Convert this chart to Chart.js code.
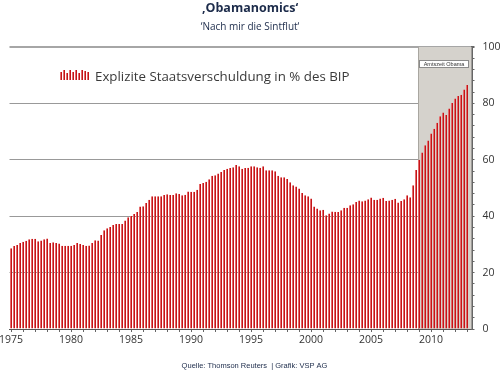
<!DOCTYPE html>
<html><head><meta charset="utf-8">
<script src="https://cdn.jsdelivr.net/npm/chart.js@4"></script>
<style>html,body{margin:0;padding:0;background:#fff}#wrap{width:500px;height:371px;position:relative}</style>
</head><body><div id="wrap"><canvas id="c" width="500" height="371"></canvas></div>
<script>
const titleText = '\u201AObamanomics\u2018';
const subtitleText = '\u2018Nach mir die Sintflut\u2018';
const seriesName = 'Explizite Staatsverschuldung in % des BIP';
const sourceText = 'Quelle: Thomson Reuters  | Grafik: VSP AG';
const shadeLabel = 'Amtszeit Obama';
const obamaStart = '2009 Q1';

// quarterly categories 1975 Q1 .. 2013 Q2
const firstYear = 1975, lastYear = 2013, lastQuarter = 2;
const quarters = [];
for (let y = firstYear; y <= lastYear; y++) {
  for (let q = 1; q <= 4; q++) {
    if (y === lastYear && q > lastQuarter) break;
    quarters.push(y + ' Q' + q);
  }
}

// explicit public debt, % of GDP, 1975 Q1 .. 2013 Q1
const debt1975_1982 = [28.6, 29.4, 29.8, 30.5, 30.9, 31.3, 31.8, 32.0, 32.0, 31.1, 31.4, 31.8, 32.1, 30.5, 30.8, 30.5,
  30.3, 29.5, 29.5, 29.5, 29.5, 29.8, 30.5, 30.1, 29.8, 29.5, 29.6, 30.5, 31.5, 31.4, 33.3, 35.0];
const debt1983_1990 = [35.7, 36.2, 36.9, 37.2, 37.2, 37.2, 38.5, 39.6, 40.1, 40.8, 41.5, 43.4, 43.5, 44.7, 45.8, 47.1,
  47.1, 47.1, 47.1, 47.5, 47.8, 47.5, 47.5, 48.1, 47.9, 47.4, 47.6, 48.8, 48.7, 48.7, 49.4, 51.4];
const debt1991_1999 = [51.8, 52.2, 53.1, 54.3, 54.5, 55.1, 55.7, 56.4, 56.8, 57.1, 57.4, 58.2, 57.7, 56.8, 57.1, 57.2,
  57.7, 57.7, 57.4, 57.2, 57.7, 56.3, 56.3, 56.3, 55.9, 54.3, 53.8, 53.8, 53.2, 52.0, 51.0, 50.5, 49.8, 48.2, 47.4];
const debt1999_2009 = [47.1, 46.3, 43.4, 42.7, 42.1, 42.3, 40.3, 41.0, 41.7, 41.6, 41.5, 42.1, 43.0, 43.0, 43.9, 44.2,
  45.0, 45.6, 45.3, 45.6, 46.0, 46.6, 45.8, 45.8, 46.3, 46.5, 45.4, 45.6, 45.8, 46.2, 44.9, 45.4, 46.0, 47.4, 46.7, 51.0, 56.4, 60.0];
const debt2009_2013 = [62.6, 65.2, 66.8, 69.3, 71.0, 73.1, 75.4, 76.8, 75.9, 78.2, 80.1, 81.7, 82.6, 83.1, 84.9, 86.5];
const debtRatio = [].concat(debt1975_1982, debt1983_1990, debt1991_1999, debt1999_2009, debt2009_2013);

const yearTickLabels = ['1975', '1980', '1985', '1990', '1995', '2000', '2005', '2010'];
const yTickValues = [0, 20, 40, 60, 80, 100];

const FONT = '"Open Sans", "DejaVu Sans", sans-serif';
const navy = '#1c2b4a';

const decor = {
  id: 'decor',
  beforeDatasetsDraw(chart) {
    const {ctx, chartArea, scales} = chart;
    const xs = scales.x, ys = scales.y;
    const idx = quarters.indexOf(obamaStart);
    const half = (xs.getPixelForValue(1) - xs.getPixelForValue(0)) / 2;
    const left = Math.round(xs.getPixelForValue(idx) - half);
    const top = ys.getPixelForValue(100);
    ctx.save();
    ctx.fillStyle = '#d5d2cc';
    ctx.fillRect(left, top, chartArea.right - left, chartArea.bottom - top);
    ctx.fillStyle = '#a9a6a0';
    ctx.fillRect(left, top, 1, chartArea.bottom - top);
    ctx.restore();
  },
  afterDraw(chart) {
    const {ctx, chartArea, scales} = chart;
    const xs = scales.x, ys = scales.y;
    ctx.save();
    // title + subtitle
    ctx.textAlign = 'center';
    ctx.textBaseline = 'alphabetic';
    ctx.fillStyle = navy;
    ctx.font = 'bold 12.5px ' + FONT;
    ctx.fillText(titleText, 250, 11.5);
    ctx.font = '10px ' + FONT;
    ctx.fillText(subtitleText, 250, 30);
    // footer
    ctx.font = '7.5px "Liberation Sans", Arial, sans-serif';
    ctx.fillText(sourceText, 254.5, 368);
    // shade label box
    const idx = quarters.indexOf(obamaStart);
    const half = (xs.getPixelForValue(1) - xs.getPixelForValue(0)) / 2;
    const left = Math.round(xs.getPixelForValue(idx) - half) + 1;
    const right = Math.round(chartArea.right) - 3;
    const top = Math.round(ys.getPixelForValue(100)) + 13;
    ctx.fillStyle = '#ffffff';
    ctx.fillRect(left, top, right - left, 8);
    ctx.strokeStyle = '#8a8a8a';
    ctx.lineWidth = 1;
    ctx.strokeRect(left + 0.5, top + 0.5, right - left - 1, 7);
    ctx.fillStyle = '#333';
    ctx.font = '5.5px "Liberation Sans", Arial, sans-serif';
    ctx.textBaseline = 'middle';
    ctx.fillText(shadeLabel, (left + right) / 2, top + 4);
    // legend
    const iconH = [8, 10, 7, 10, 8, 10, 7, 10, 9, 8];
    for (let i = 0; i < iconH.length; i++) {
      ctx.fillStyle = '#e27070';
      ctx.fillRect(60 + i * 3, 80 - iconH[i], 1, iconH[i]);
      ctx.fillStyle = '#c41418';
      ctx.fillRect(61 + i * 3, 80 - iconH[i], 1, iconH[i]);
    }
    ctx.textAlign = 'left';
    ctx.textBaseline = 'alphabetic';
    ctx.fillStyle = '#3a3a3a';
    ctx.font = '13.3px ' + FONT;
    ctx.fillText(chart.data.datasets[0].label, 95, 81);
    ctx.restore();
  }
};

new Chart(document.getElementById('c'), {
  type: 'bar',
  data: {
    labels: quarters,
    datasets: [{
      label: seriesName,
      data: debtRatio,
      backgroundColor: '#e46a6a',
      borderColor: '#c41418',
      borderWidth: {left: 0, right: 1, top: 0, bottom: 0},
      borderSkipped: false,
      barPercentage: 2 / 3,
      categoryPercentage: 1.0
    }]
  },
  options: {
    responsive: false,
    devicePixelRatio: 1,
    animation: false,
    layout: {padding: {left: 9.5, right: 0, top: 47, bottom: 19}},
    plugins: {legend: {display: false}, title: {display: false}, tooltip: {enabled: false}},
    scales: {
      x: {
        type: 'category',
        offset: true,
        afterFit(s) { s.height = 23; s.paddingLeft = 0; s.paddingRight = 0; },
        grid: {
          offset: false,
          drawOnChartArea: false,
          tickLength: 3,
          color: 'transparent',
          tickColor: (c) => (quarters[c.index] || '').endsWith('Q1') ? '#666' : 'transparent'
        },
        border: {display: true, color: '#555', width: 1},
        ticks: {
          autoSkip: false,
          maxRotation: 0,
          minRotation: 0,
          padding: 2,
          color: '#333',
          font: {family: FONT, size: 10.5},
          callback: (v, i) => {
            const q = quarters[i];
            const yr = q.slice(0, 4);
            return q.endsWith('Q1') && yearTickLabels.includes(yr) ? yr : '';
          }
        }
      },
      y: {
        position: 'right',
        min: 0,
        max: 100,
        z: 1,
        afterFit(s) { s.width = 28.5; },
        border: {display: true, color: '#666', width: 2},
        grid: {
          tickLength: 3,
          color: (c) => {
            const v = c.tick.value;
            if (v % 20 !== 0) return 'transparent';
            return v === 100 ? '#a6a6a6' : 'rgba(85,85,85,0.6)';
          },
          lineWidth: (c) => c.tick.value === 100 ? 2 : 1,
          tickColor: '#666'
        },
        ticks: {
          stepSize: 4,
          maxTicksLimit: 40,
          autoSkip: false,
          padding: 8,
          color: '#333',
          font: {family: FONT, size: 10.5},
          callback: (v) => yTickValues.includes(v) ? String(v) : ''
        }
      }
    }
  },
  plugins: [decor]
});
</script>
</body></html>
